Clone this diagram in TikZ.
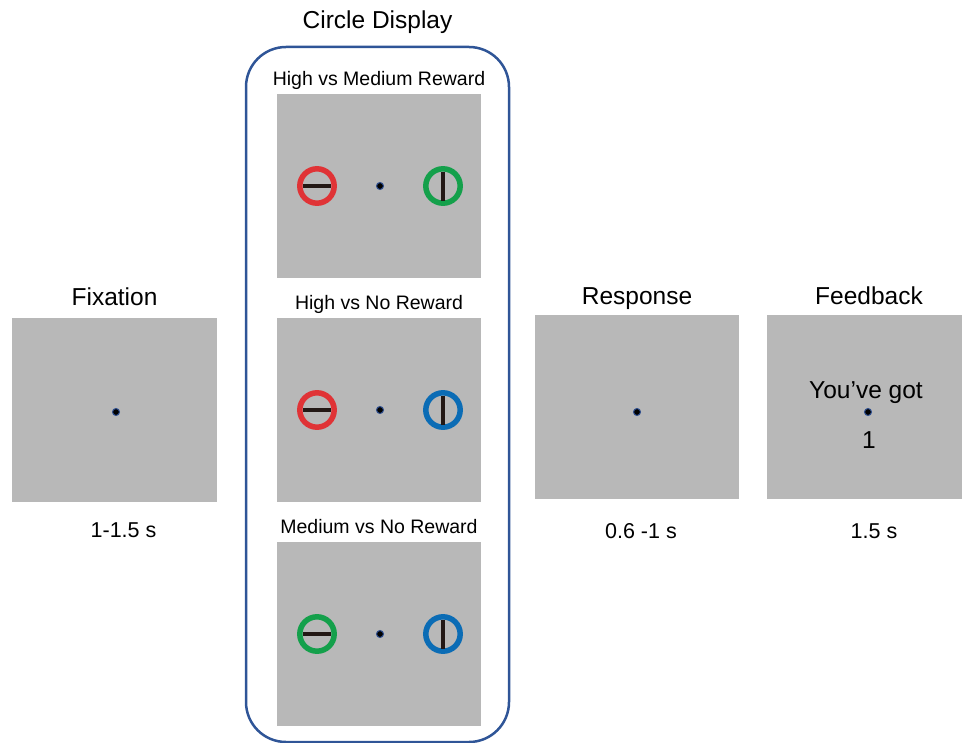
\documentclass[tikz,border=0pt]{standalone}
\usepackage{fontspec}
\setmainfont{Liberation Sans}
\usetikzlibrary{positioning}
\definecolor{screengray}{HTML}{B8B8B8}
\definecolor{frameblue}{HTML}{2F5597}
\definecolor{cuered}{HTML}{E03336}
\definecolor{cuegreen}{HTML}{14A04B}
\definecolor{cueblue}{HTML}{0B6CB5}
\definecolor{bardark}{HTML}{231815}
\definecolor{dotrim}{HTML}{2F4F8F}
\begin{document}
\begin{tikzpicture}[x=1bp,y=-1bp,
    screen/.style={fill=screengray,inner sep=0,minimum width=204bp,minimum height=184bp},
    title/.style={font=\fontsize{24.5bp}{29bp}\selectfont,inner sep=0,anchor=base},
    pairlabel/.style={font=\fontsize{19.5bp}{23bp}\selectfont,inner sep=0,anchor=base},
    duration/.style={font=\fontsize{21.5bp}{26bp}\selectfont,inner sep=0,anchor=base},
    fixdot/.style={circle,fill=black,draw=dotrim,line width=1bp,inner sep=0,minimum size=7bp},
    ring/.style={circle,draw=#1,line width=5.5bp,inner sep=0,minimum size=34.4bp},
    bar/.style={draw=bardark,line width=3.6bp}]
    \clip (0,0) rectangle (962,743);
    % screens
    \node [screen] (fix) at (114.5,410) {};
    \node [screen] (resp) at (637,407) {};
    \node [screen] (fb) at (869,407) {};
    \node [screen] (cd1) at (379,186) {};
    \node [screen] (cd2) at (379,410) {};
    \node [screen] (cd3) at (379,634) {};
    \node [draw=frameblue,line width=2.5bp,rounded corners=40bp,inner sep=0,
        minimum width=263bp,minimum height=695bp] (cdbox) at (377.5,394.5) {};
    % titles and durations
    \node [title] at ([yshift=12bp]fix.north) {Fixation};
    \node [title] at ([yshift=17bp]cdbox.north) {Circle Display};
    \node [title] at ([yshift=10bp]resp.north) {Response};
    \node [title] at ([yshift=10bp]fb.north) {Feedback};
    \node [duration] at ([xshift=9bp,yshift=-35bp]fix.south) {1-1.5 s};
    \node [duration] at ([xshift=4bp,yshift=-39bp]resp.south) {0.6 -1 s};
    \node [duration] at ([xshift=5bp,yshift=-39bp]fb.south) {1.5 s};
    % fixation points
    \node [fixdot] (fixdot) at ([xshift=1.5bp,yshift=-2bp]fix.center) {};
    \node [fixdot] (respdot) at ([yshift=-5bp]resp.center) {};
    \node [fixdot] (fbdot) at ([xshift=-1bp,yshift=-5bp]fb.center) {};
    \node [title] (fbtext) at (866,398) {You’ve got};
    \node [title] (fbnum) at (869,448) {1};
    % circle pairs
    \foreach \p/\lab/\cl/\cr in {cd1/High vs Medium Reward/cuered/cuegreen,
        cd2/High vs No Reward/cuered/cueblue,cd3/Medium vs No Reward/cuegreen/cueblue} {
        \node [pairlabel] at ([yshift=8bp]\p.north) {\lab};
        \node [fixdot] (\p-dot) at ([xshift=1bp]\p.center) {};
        \node [ring=\cl] (\p-l) at ([xshift=-62bp]\p.center) {};
        \node [ring=\cr] (\p-r) at ([xshift=64bp]\p.center) {};
        \draw [bar] ([xshift=-14bp]\p-l.center) -- ([xshift=14bp]\p-l.center);
        \draw [bar] ([yshift=14.5bp]\p-r.center) -- ([yshift=-14.5bp]\p-r.center);
    }
\end{tikzpicture}
\end{document}
